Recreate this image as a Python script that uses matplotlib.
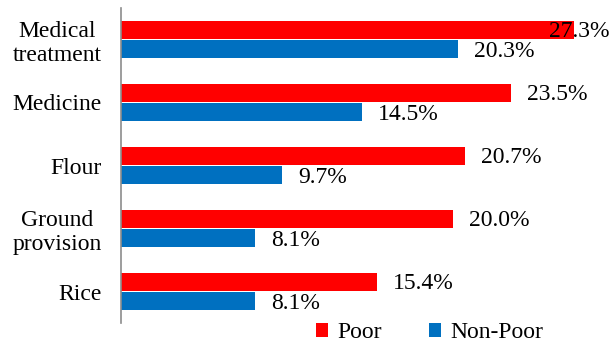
import matplotlib.pyplot as plt
import numpy as np

plt.rcParams['font.family'] = ['Liberation Serif', 'DejaVu Serif']

categories = ['Medical\ntreatment', 'Medicine', 'Flour', 'Ground\nprovision', 'Rice']
poor = [27.3, 23.5, 20.7, 20.0, 15.4]
non_poor = [20.3, 14.5, 9.7, 8.1, 8.1]

fig = plt.figure(figsize=(6.13, 3.45), dpi=100)
ax = fig.add_axes([121 / 613, 22 / 345, (600 - 121) / 613, 315 / 345])

y = np.arange(len(categories))
h = 0.28
gap = 0.008
ax.barh(y - h / 2 - gap, poor, height=h, color='#FF0000', label='Poor')
ax.barh(y + h / 2 + gap, non_poor, height=h, color='#0070C0', label='Non-Poor')

xmax = 28.85
ax.set_xlim(0, xmax)
ax.set_ylim(len(categories) - 0.5, -0.5)

fs = 17
# value labels, pulled back inside the plot when they would run off the edge
for yi, v in zip(y - h / 2 - gap, poor):
    x = min(v + 0.97, 25.8)
    ax.text(x, yi + 0.02, f'{v:.1f}%', va='center', ha='left', fontsize=fs)
for yi, v in zip(y + h / 2 + gap, non_poor):
    ax.text(v + 0.97, yi + 0.04, f'{v:.1f}%', va='center', ha='left', fontsize=fs)

ax.set_yticks(y)
ax.set_yticklabels(categories, fontsize=fs, multialignment='center')
ax.tick_params(axis='y', length=0, pad=14)
ax.set_xticks([])
for side in ['top', 'right', 'bottom']:
    ax.spines[side].set_visible(False)
ax.spines['left'].set_color('#8c8c8c')
ax.spines['left'].set_linewidth(1.2)

ax.legend(loc='center', bbox_to_anchor=(430 / 613, 1 - 333 / 345),
          bbox_transform=fig.transFigure, ncol=2, frameon=False,
          fontsize=fs, handlelength=0.5, handleheight=0.5,
          handletextpad=0.4, columnspacing=2.0, borderpad=0)

fig.savefig('out.png', dpi=100)
